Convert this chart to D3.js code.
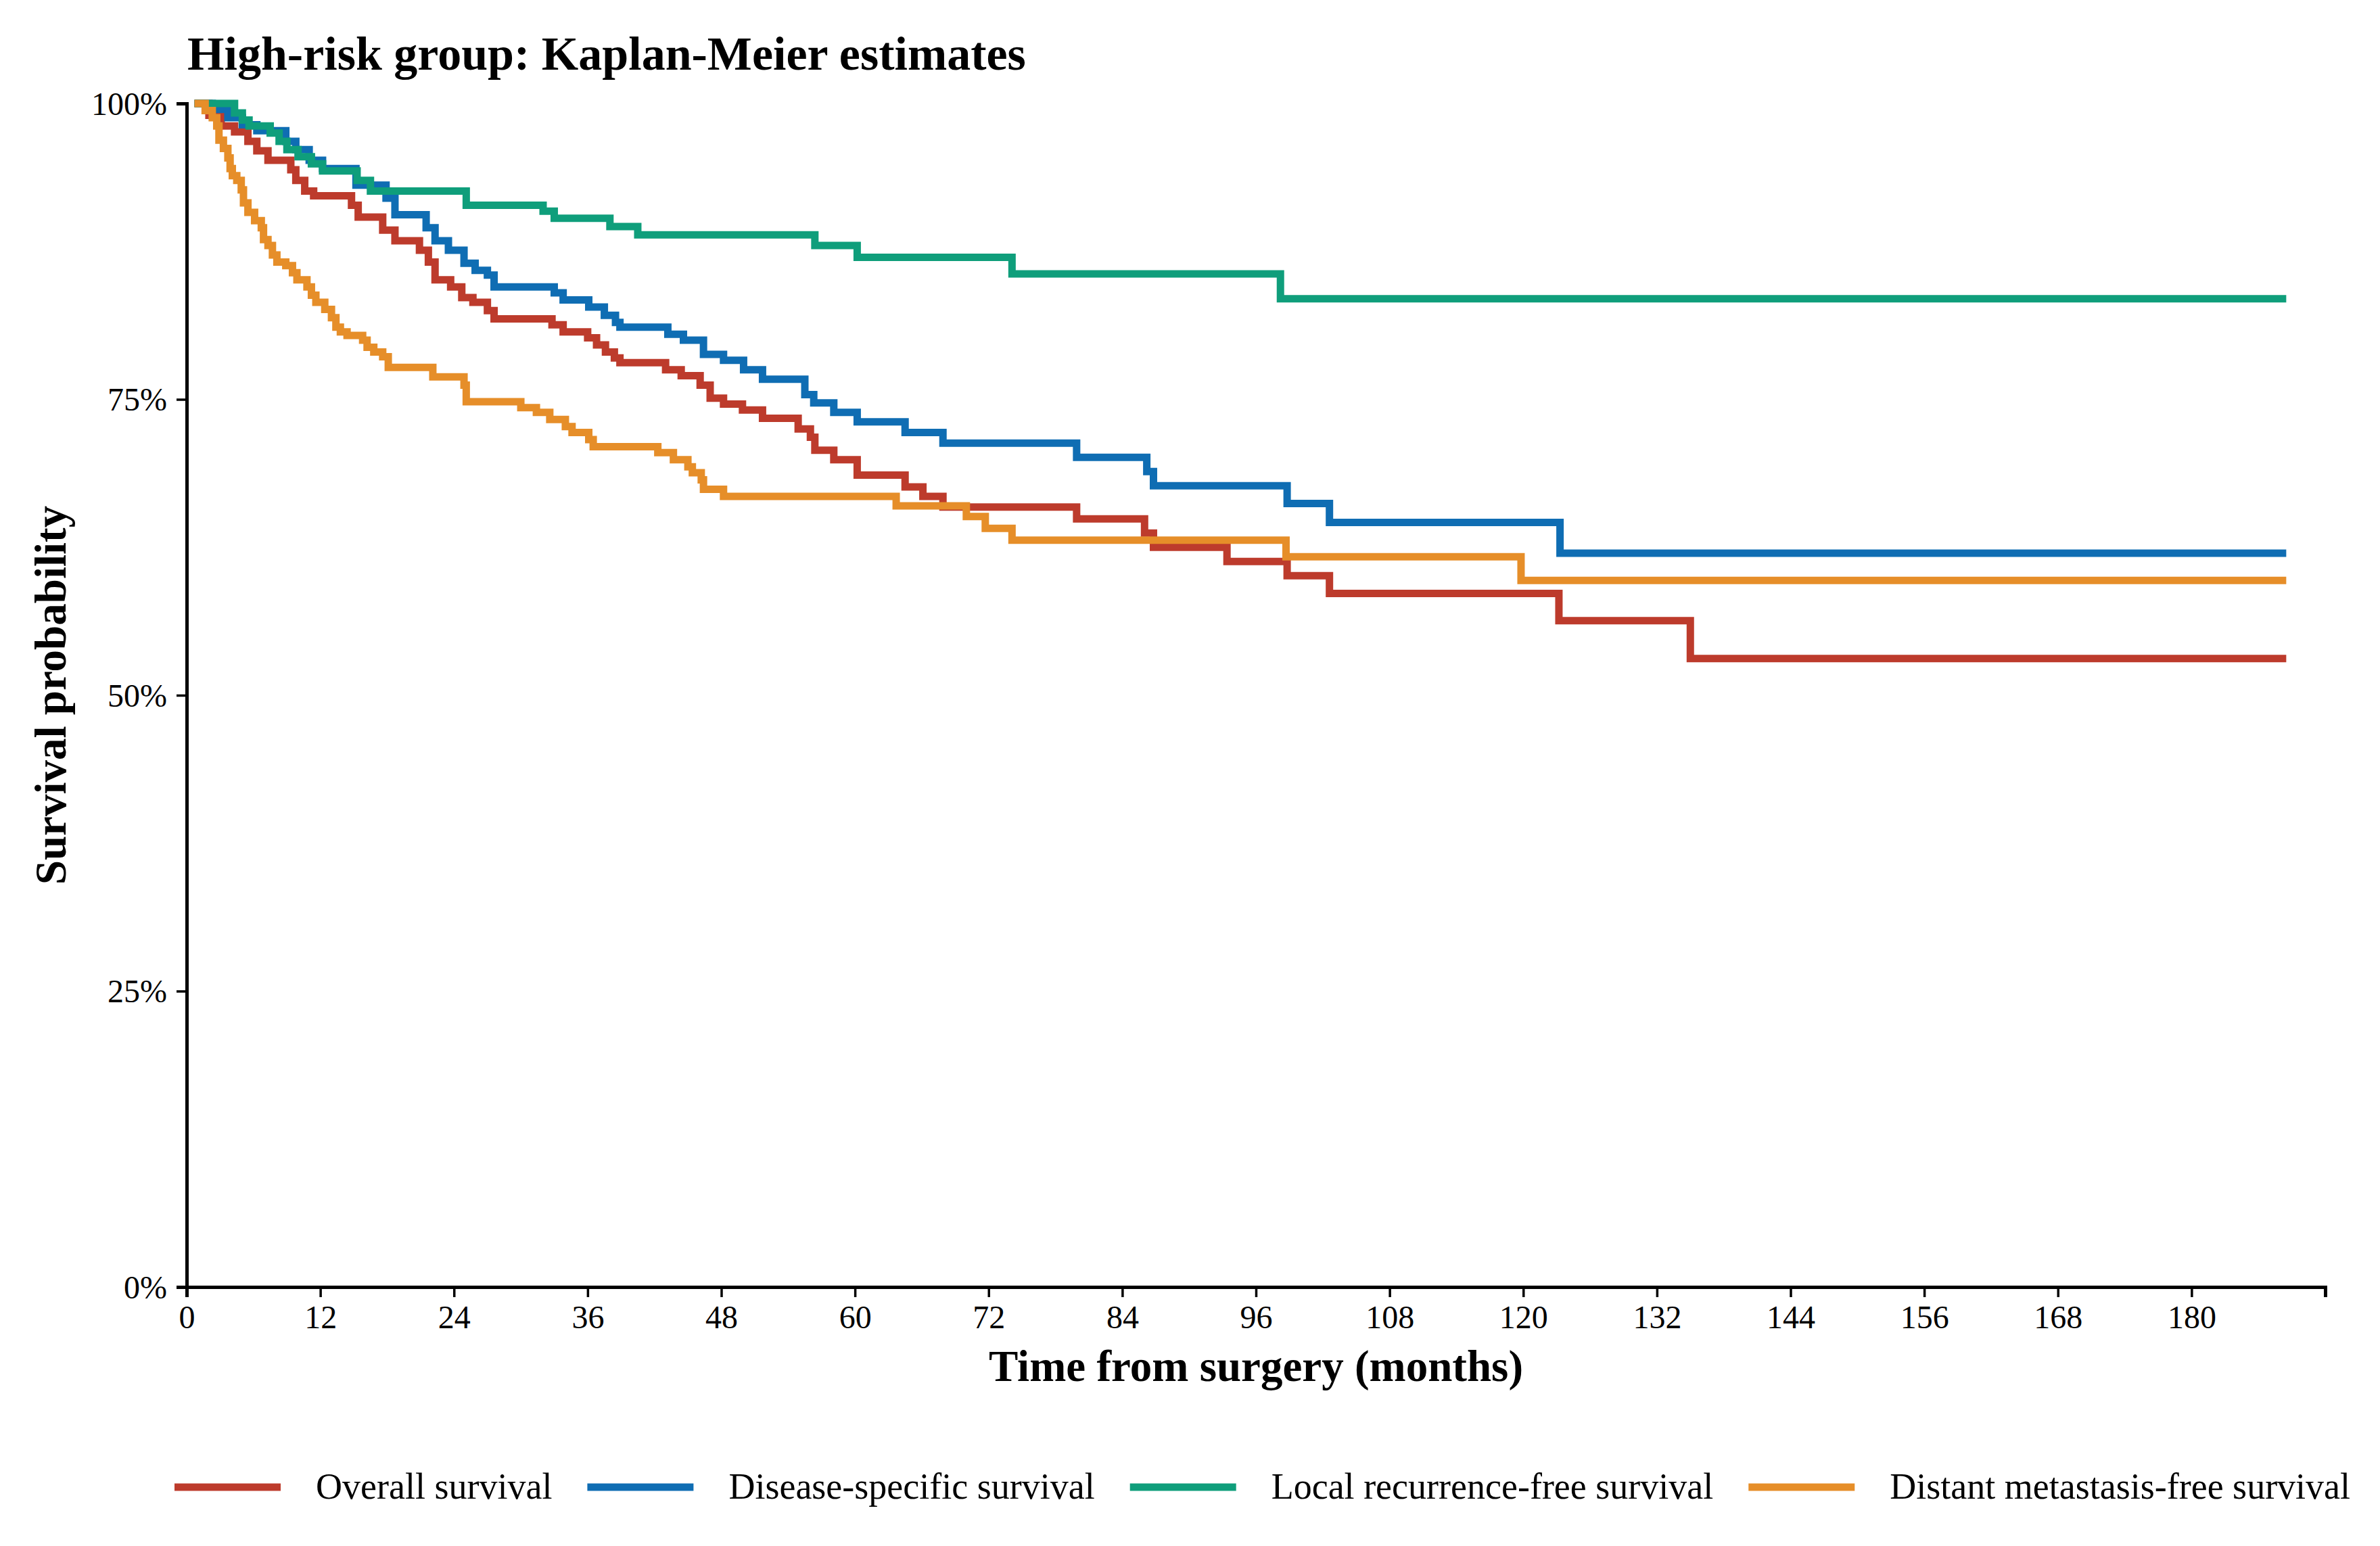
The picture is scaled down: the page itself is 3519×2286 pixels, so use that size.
<!DOCTYPE html>
<html>
<head>
<meta charset="utf-8">
<script src="https://cdn.jsdelivr.net/npm/d3@7"></script>
<style>
  body { margin: 0; background: #ffffff; }
  text { font-family: "Liberation Serif", "Times New Roman", serif; fill: #000; }
</style>
</head>
<body>
<div id="chart"></div>
<script>
const W = 3519, H = 2286;

// legend labels, in drawing order
const seriesLabels = [
  "Overall survival",
  "Disease-specific survival",
  "Local recurrence-free survival",
  "Distant metastasis-free survival"
];

// [months, survival probability]
const overallSurv = [
  [0.7,1],[2,0.99],[3.1,0.981],[4.3,0.976],[5.5,0.968],[6.3,0.96],[7.3,0.952],[9.35,0.944],
  [9.8,0.935],[10.6,0.926],[11.4,0.922],[14.8,0.914],[15.4,0.904],[17.6,0.893],[18.7,0.884],
  [20.9,0.876],[21.7,0.866],[22.3,0.851],[23.7,0.845],[24.7,0.836],[25.7,0.832],[27,0.825],
  [27.6,0.818],[32.8,0.813],[33.8,0.807],[36,0.802],[36.8,0.796],[37.6,0.79],[38.4,0.785],
  [38.9,0.781],[43,0.775],[44.4,0.77],[46.1,0.762],[47,0.751],[48.2,0.746],[49.9,0.741],
  [51.7,0.734],[54.9,0.725],[56,0.718],[56.4,0.707],[58.1,0.699],[60.2,0.686],[64.5,0.676],
  [66.1,0.668],[67.9,0.659],[79.9,0.649],[86,0.637],[86.8,0.625],[93.4,0.613],[98.8,0.601],
  [102.6,0.586],[123.2,0.563],[135,0.531],[188.5,0.531]
];

const diseaseSurv = [
  [0.7,1],[2.3,0.995],[3.7,0.988],[5,0.982],[6.3,0.977],[8.9,0.968],[9.8,0.961],[11,0.952],
  [12.2,0.945],[15.2,0.931],[17.9,0.92],[18.7,0.906],[21.5,0.895],[22.3,0.884],[23.5,0.876],
  [24.9,0.865],[25.9,0.859],[27,0.855],[27.6,0.845],[33,0.84],[33.8,0.834],[36.1,0.828],
  [37.5,0.821],[38.5,0.815],[38.9,0.811],[43.2,0.805],[44.6,0.8],[46.4,0.788],[48.2,0.783],
  [50,0.775],[51.7,0.767],[55.5,0.754],[56.3,0.747],[58.1,0.739],[60.2,0.731],[64.5,0.722],
  [67.9,0.713],[79.9,0.701],[86.2,0.689],[86.8,0.677],[98.8,0.662],[102.6,0.646],
  [123.3,0.62],[188.5,0.62]
];

const localSurv = [
  [0.7,1],[4.3,0.992],[5,0.986],[5.6,0.981],[7.5,0.975],[8.3,0.968],[9,0.961],[10,0.955],
  [11.2,0.949],[12.2,0.943],[15.3,0.935],[16.5,0.926],[25.1,0.914],[32,0.909],[33,0.903],
  [38,0.896],[40.5,0.889],[56.4,0.88],[60.2,0.87],[74.1,0.856],[98.2,0.835],[188.5,0.835]
];

const distantSurv = [
  [0.7,1],[1.66,0.994],[2.3,0.988],[2.7,0.981],[2.9,0.969],[3.3,0.962],[3.7,0.954],[3.9,0.945],
  [4.1,0.939],[4.5,0.935],[4.9,0.927],[5.1,0.916],[5.5,0.908],[6.1,0.901],[6.7,0.895],
  [6.9,0.885],[7.3,0.88],[7.7,0.872],[8.1,0.866],[8.9,0.863],[9.5,0.857],[9.9,0.851],
  [10.8,0.845],[11.2,0.838],[11.6,0.832],[12.4,0.826],[13,0.819],[13.4,0.811],[13.8,0.807],
  [14.4,0.804],[15.8,0.8],[16.2,0.794],[16.8,0.79],[17.6,0.786],[18.1,0.777],[22.1,0.769],
  [24.9,0.762],[25.1,0.748],[30,0.743],[31.4,0.739],[32.6,0.733],[34,0.727],[34.6,0.722],
  [36.1,0.716],[36.5,0.71],[42.3,0.705],[43.7,0.699],[45,0.693],[45.4,0.688],[46.2,0.682],
  [46.4,0.674],[48.2,0.668],[63.7,0.66],[70,0.651],[71.7,0.641],[74.1,0.631],[98.7,0.617],
  [119.8,0.597],[188.5,0.597]
];

const xTicks = [0,12,24,36,48,60,72,84,96,108,120,132,144,156,168,180];
const yTicks = [0,0.25,0.5,0.75,1];

const colors = ["#bd3b2c", "#0f6db3", "#0f9e7b", "#e68e29"];

const m = { l: 276, r: W - 3438, t: 153, b: H - 1903 };

const svg = d3.select("#chart").append("svg")
  .attr("width", W).attr("height", H)
  .attr("viewBox", `0 0 ${W} ${H}`);

const x = d3.scaleLinear().domain([0, 192]).range([m.l, W - m.r]);
const y = d3.scaleLinear().domain([0, 1]).range([H - m.b, m.t]);

// curves
const line = d3.line()
  .x(d => x(d[0]))
  .y(d => y(d[1]))
  .curve(d3.curveStepAfter);

const allSeries = [overallSurv, diseaseSurv, localSurv, distantSurv];

svg.append("g")
  .selectAll("path")
  .data(allSeries)
  .join("path")
    .attr("fill", "none")
    .attr("stroke", (d, i) => colors[i])
    .attr("stroke-width", 11)
    .attr("stroke-linejoin", "miter")
    .attr("d", line);

// axes
const xAxis = svg.append("g")
  .attr("transform", `translate(0,${H - m.b})`)
  .call(d3.axisBottom(x).tickValues(xTicks).tickSizeOuter(0).tickSize(15).tickPadding(12));

const yAxis = svg.append("g")
  .attr("transform", `translate(${m.l},0)`)
  .call(d3.axisLeft(y).tickValues(yTicks).tickFormat(d3.format(".0%")).tickSizeOuter(0).tickSize(15).tickPadding(14));

for (const ax of [xAxis, yAxis]) {
  ax.select(".domain").attr("stroke", "#000").attr("stroke-width", 5);
  ax.selectAll(".tick line").attr("stroke", "#000").attr("stroke-width", 3.5);
  ax.selectAll(".tick text")
    .attr("font-family", "Liberation Serif")
    .attr("font-size", 48)
    .attr("fill", "#000");
}
yAxis.selectAll(".tick text").attr("dy", "0.34em");

// titles
svg.append("text")
  .attr("x", 277).attr("y", 103)
  .attr("font-size", 70).attr("font-weight", "bold")
  .text("High-risk group: Kaplan-Meier estimates");

svg.append("text")
  .attr("x", (m.l + W - m.r) / 2).attr("y", 2042)
  .attr("text-anchor", "middle")
  .attr("font-size", 65).attr("font-weight", "bold")
  .text("Time from surgery (months)");

svg.append("text")
  .attr("transform", `translate(97,${(H - m.b + m.t) / 2}) rotate(-90)`)
  .attr("text-anchor", "middle")
  .attr("font-size", 65).attr("font-weight", "bold")
  .text("Survival probability");

// legend
const legY = 2199;
const swatchW = 157;
let cx = 258;
seriesLabels.forEach((lab, i) => {
  const g = svg.append("g");
  g.append("line")
    .attr("x1", cx).attr("x2", cx + swatchW)
    .attr("y1", legY).attr("y2", legY)
    .attr("stroke", colors[i]).attr("stroke-width", 11);
  const t = g.append("text")
    .attr("x", cx + swatchW + 52).attr("y", legY + 17)
    .attr("font-size", 54)
    .text(lab);
  cx += swatchW + 52 + t.node().getComputedTextLength() + 52;
});
</script>
</body>
</html>
